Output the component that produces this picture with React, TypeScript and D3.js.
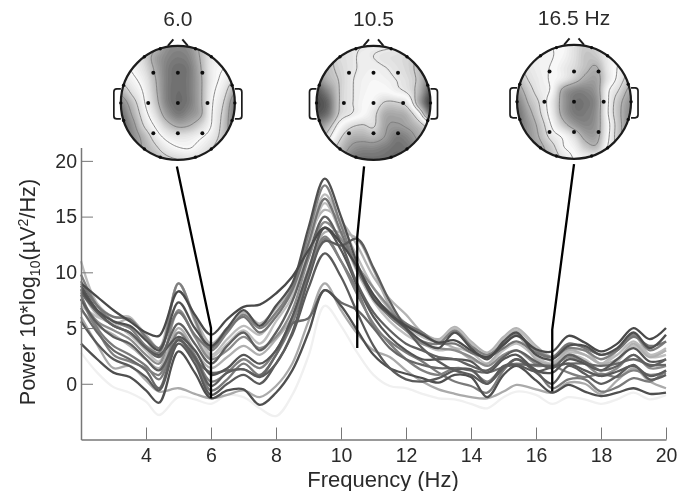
import React, { useEffect, useRef } from 'react';
import * as d3 from 'd3';

const freqs = [2, 2.5, 3, 3.5, 4, 4.4, 5, 5.5, 6, 6.5, 7, 7.5, 8, 8.5, 9, 9.5, 10, 10.5, 11, 11.5, 12, 12.5, 13, 13.5, 14, 14.5, 15, 15.4, 16, 16.5, 17, 17.5, 18, 18.5, 19, 19.5, 20];

// one spectrum per subject
const ghost = [2.8, 1.0, -0.3, -0.8, -1.6, -2.8, -1.2, -1.4, -1.8, -1.0, -1.2, -2.2, -2.9, -1.0, 2.5, 7.0, 5.2, 2.8, 0.8, -0.2, -0.4, -0.9, -1.3, -1.4, -1.8, -2.2, -1.2, -0.7, -1.0, -1.8, -1.2, -1.4, -1.8, -1.4, -0.8, -1.4, -1.0];
const lightT = [8.4, 6.2, 5.4, 5.8, 4.4, 3.2, 9.0, 6.0, 3.6, 5.0, 6.4, 5.4, 6.8, 8.8, 13.0, 15.6, 14.6, 12.4, 9.6, 7.6, 6.2, 4.6, 4.0, 5.1, 3.8, 2.8, 4.2, 5.0, 3.4, 2.4, 3.0, 3.0, 1.8, 3.0, 4.4, 2.6, 3.0];
const lightD = [11.0, 7.2, 6.0, 6.0, 4.0, 2.6, 9.0, 5.6, 2.6, 4.0, 5.2, 4.4, 6.2, 8.2, 12.8, 17.0, 14.4, 11.4, 8.6, 6.6, 5.2, 4.2, 3.8, 5.0, 3.6, 2.4, 4.0, 4.8, 3.2, 2.0, 2.8, 2.6, 1.8, 2.6, 3.8, 2.6, 3.2];
const lightE = [7.0, 6.0, 5.4, 4.4, 3.0, 2.0, 6.4, 4.4, 2.4, 3.6, 4.8, 3.6, 5.6, 7.8, 12.2, 16.2, 13.4, 10.0, 7.4, 5.6, 4.4, 3.6, 3.0, 3.2, 2.8, 1.8, 3.0, 3.6, 2.4, 1.8, 2.6, 2.2, 1.2, 2.0, 3.4, 2.4, 2.6];
const lightI = [6.6, 5.2, 4.4, 3.4, 2.2, 1.4, 5.0, 3.0, 1.4, 2.4, 3.4, 2.6, 4.0, 6.0, 10.4, 13.6, 13.6, 13.0, 10.2, 7.0, 5.4, 4.4, 3.8, 3.2, 2.2, 1.8, 3.4, 4.4, 2.2, 1.8, 3.0, 2.6, 1.8, 2.2, 3.6, 2.4, 3.0];
const lightQ = [6.0, 3.5, 1.4, 1.6, 0.3, -0.7, -0.4, -0.9, -1.3, -1.0, -0.6, -1.2, -0.2, 1.8, 5.6, 9.0, 6.6, 4.5, 3.0, 2.4, 1.2, 0.2, -0.5, -0.9, -1.2, -1.3, -0.7, -0.1, -0.5, -0.8, 0.1, 0.0, -0.9, 0.3, 1.4, 0.2, -0.4];
const midG = [7.6, 5.6, 4.8, 4.0, 2.6, 1.8, 6.6, 4.2, 2.2, 3.0, 4.2, 3.2, 4.2, 6.6, 11.2, 14.5, 13.0, 10.6, 8.6, 6.8, 4.8, 3.6, 3.2, 3.0, 2.4, 1.6, 2.6, 3.0, 1.8, 1.6, 2.4, 1.8, 0.8, 1.4, 2.6, 1.4, 1.6];
const midC = [9.8, 7.0, 5.6, 5.0, 3.4, 2.8, 9.0, 5.8, 3.0, 4.6, 6.2, 5.0, 6.4, 8.6, 13.4, 17.8, 14.2, 10.4, 7.6, 6.0, 4.8, 3.8, 3.6, 4.8, 3.4, 2.6, 3.6, 4.4, 3.0, 2.4, 3.2, 3.0, 2.2, 3.0, 4.4, 3.0, 3.8];
const midK = [8.0, 5.0, 3.4, 2.6, 1.6, 0.4, 4.0, 2.2, -0.6, 0.4, 1.8, 0.8, 2.6, 5.4, 9.6, 13.0, 11.0, 8.4, 5.2, 3.8, 2.8, 2.0, 1.0, 0.2, -0.2, -0.8, 1.2, 2.2, 1.2, -0.4, 0.4, 0.4, -0.7, -0.3, 0.5, 0.2, 1.2];
const midR = [7.6, 4.8, 2.6, 2.0, 1.4, 0.8, 4.6, 2.6, 0.2, 1.0, 2.2, 1.4, 3.0, 5.8, 9.8, 13.2, 11.0, 8.0, 5.4, 3.6, 2.2, 1.2, 0.8, 1.4, 1.2, 0.2, 1.5, 1.8, 1.6, 1.6, 1.0, 0.6, 0.9, 0.6, 1.2, 0.8, 1.0];
const midS = [9.2, 7.0, 6.0, 5.8, 4.2, 3.2, 6.4, 4.4, 3.2, 4.8, 6.0, 4.6, 6.0, 8.4, 12.6, 16.6, 13.6, 10.2, 7.8, 6.4, 5.4, 4.6, 3.6, 3.6, 2.8, 2.4, 3.2, 3.8, 2.8, 2.4, 3.6, 3.2, 2.6, 3.0, 4.2, 3.4, 3.8];
const darkO = [6.8, 4.6, 3.0, 2.2, 1.2, -0.4, 4.0, 2.2, 1.0, 1.2, 1.3, 0.7, 2.6, 5.4, 5.9, 8.4, 7.3, 6.6, 5.0, 3.2, 2.2, 1.7, 1.4, 1.4, 1.2, 1.0, 1.5, 1.7, 1.7, 1.6, 1.8, 1.8, 1.6, 1.8, 2.2, 1.7, 1.7];
const darkL = [3.6, 2.2, 1.0, 0.6, -0.6, -1.7, 2.9, 1.0, -1.3, -0.6, -0.5, -1.9, -0.8, 1.2, 4.6, 8.4, 7.0, 4.8, 2.6, 1.4, 0.9, 0.5, 0.1, 0.8, 0.6, -1.2, 0.8, 1.6, 0.3, -0.8, -0.1, -0.7, -1.1, -0.8, -0.4, -0.9, -0.8];
const darkN = [5.6, 3.6, 2.2, 1.6, 0.6, -0.6, 3.6, 1.8, -1.0, 0.0, 0.8, 0.0, 1.8, 4.4, 8.6, 11.7, 9.6, 6.4, 3.4, 1.4, 0.4, 0.2, 0.5, 1.2, 1.3, 0.0, 1.6, 1.7, 1.1, 1.5, 1.8, 1.2, 0.7, 1.1, 1.6, 0.7, 1.2];
const darkJ = [7.6, 5.4, 4.2, 3.6, 2.2, 1.2, 3.9, 2.4, -0.2, 1.0, 1.3, 0.6, 1.8, 4.6, 9.4, 12.8, 12.4, 13.0, 10.4, 7.4, 5.0, 3.2, 2.0, 1.2, 0.8, 0.0, 1.4, 2.2, 1.0, 0.0, 1.6, 0.9, 0.0, 0.7, 1.7, 0.4, 0.8];
const darkH = [8.8, 6.6, 5.2, 4.6, 3.2, 2.6, 4.2, 3.0, 0.8, 1.4, 2.6, 1.8, 3.0, 6.0, 10.2, 14.0, 12.0, 8.8, 6.0, 4.2, 3.0, 2.2, 2.2, 2.2, 2.0, 1.0, 2.2, 2.6, 1.2, 1.0, 2.2, 1.8, 1.2, 2.2, 3.2, 2.0, 2.2];
const darkF = [8.2, 6.4, 5.2, 4.6, 3.2, 2.4, 5.4, 3.6, 1.8, 3.4, 4.6, 3.0, 4.6, 7.4, 11.6, 15.0, 12.6, 9.0, 6.4, 4.8, 3.6, 3.0, 2.4, 2.2, 1.6, 1.2, 2.4, 3.0, 2.0, 1.4, 2.6, 2.0, 1.2, 1.6, 2.6, 1.6, 2.2];
const darkB = [8.5, 6.6, 5.6, 5.2, 3.9, 3.0, 7.3, 5.0, 3.4, 5.0, 6.6, 5.2, 7.0, 9.0, 14.0, 18.4, 15.0, 10.8, 7.6, 6.2, 5.0, 3.8, 3.2, 4.6, 3.2, 2.2, 3.8, 4.6, 2.6, 2.2, 3.4, 3.4, 2.6, 3.2, 4.6, 3.2, 4.4];
const darkA = [9.0, 7.8, 6.6, 5.6, 4.6, 4.3, 8.3, 6.2, 4.4, 5.8, 6.9, 7.1, 8.1, 9.6, 12.0, 14.0, 12.6, 10.5, 8.0, 6.3, 5.2, 4.4, 3.7, 3.9, 3.0, 2.4, 3.5, 4.3, 3.1, 2.9, 4.3, 3.7, 2.9, 3.6, 5.0, 4.0, 5.0];

const spectra = [ghost, lightT, lightD, lightE, lightI, lightQ, midG, midC, midK, midR, midS, darkO, darkL, darkN, darkJ, darkH, darkF, darkB, darkA];
const spectraGray = ['#f0f0f0', '#b4b4b4', '#bcbcbc', '#c0c0c0', '#b0b0b0', '#aaaaaa', '#8c8c8c', '#808080', '#7a7a7a', '#808080', '#747474', '#686868', '#505050', '#5a5a5a', '#5c5c5c', '#555555', '#606060', '#505050', '#4a4a4a'];

// scalp maps: signed level on a grid across the head, rows run front to back.
// both signs print dark, zero prints white
const map6 = [
  [0.1, 0.1, 0.2, 0.3, 0.5, 0.55, 0.5, 0.3, 0.1, 0, 0],
  [0, 0.05, 0.2, 0.42, 0.55, 0.6, 0.55, 0.33, 0.1, 0.05, 0],
  [-0.05, 0.02, 0.15, 0.38, 0.58, 0.65, 0.6, 0.36, 0.08, 0, -0.05],
  [-0.15, -0.05, 0.08, 0.33, 0.58, 0.65, 0.6, 0.38, 0.08, -0.05, -0.2],
  [-0.35, -0.15, 0.02, 0.3, 0.58, 0.66, 0.6, 0.38, 0.05, -0.12, -0.4],
  [-0.55, -0.3, -0.03, 0.25, 0.56, 0.66, 0.6, 0.38, 0.02, -0.2, -0.55],
  [-0.65, -0.4, -0.1, 0.15, 0.45, 0.6, 0.52, 0.38, 0, -0.25, -0.6],
  [-0.7, -0.5, -0.2, 0.02, 0.25, 0.38, 0.35, 0.2, -0.02, -0.28, -0.6],
  [-0.7, -0.55, -0.35, -0.12, 0.05, 0.12, 0.1, 0.02, -0.1, -0.3, -0.55],
  [-0.65, -0.55, -0.4, -0.25, -0.1, -0.02, 0, -0.08, -0.2, -0.35, -0.5],
  [-0.6, -0.55, -0.45, -0.35, -0.25, -0.2, -0.15, -0.2, -0.3, -0.4, -0.5],
];
const map10 = [
  [-0.15, -0.15, -0.15, -0.12, -0.1, -0.08, -0.08, -0.1, -0.15, -0.2, -0.2],
  [-0.3, -0.28, -0.18, -0.13, -0.08, -0.1, -0.14, -0.16, -0.2, -0.28, -0.4],
  [-0.36, -0.3, -0.21, -0.13, -0.08, -0.06, -0.09, -0.14, -0.2, -0.3, -0.45],
  [-0.55, -0.36, -0.24, -0.12, -0.06, -0.03, -0.05, -0.1, -0.17, -0.3, -0.6],
  [-0.75, -0.55, -0.25, -0.12, -0.05, 0, 0.02, -0.05, -0.13, -0.35, -0.75],
  [-0.8, -0.68, -0.25, -0.12, -0.03, 0.06, 0.22, 0.22, 0.1, -0.4, -0.85],
  [-0.75, -0.62, -0.22, -0.1, 0, 0.14, 0.38, 0.4, 0.33, 0, -0.6],
  [-0.55, -0.35, -0.02, 0.16, 0.22, 0.18, 0.42, 0.47, 0.42, 0.3, 0.1],
  [-0.4, -0.15, 0.15, 0.35, 0.38, 0.35, 0.46, 0.6, 0.55, 0.4, 0.3],
  [-0.2, 0.05, 0.28, 0.48, 0.55, 0.55, 0.6, 0.65, 0.62, 0.5, 0.4],
  [-0.1, 0.1, 0.35, 0.6, 0.65, 0.65, 0.65, 0.68, 0.65, 0.55, 0.45],
];
const map16 = [
  [-0.1, -0.08, -0.05, -0.03, 0, 0.15, 0.25, 0.2, 0.05, -0.05, -0.1],
  [-0.12, -0.08, -0.06, -0.04, 0.03, 0.15, 0.28, 0.25, 0.08, -0.03, -0.1],
  [-0.18, -0.12, -0.06, -0.02, 0.08, 0.18, 0.3, 0.36, 0.1, -0.06, -0.18],
  [-0.32, -0.17, -0.08, -0.01, 0.1, 0.25, 0.4, 0.42, 0.12, -0.1, -0.28],
  [-0.45, -0.25, -0.1, 0, 0.4, 0.55, 0.56, 0.45, 0, -0.2, -0.42],
  [-0.58, -0.33, -0.16, 0.08, 0.44, 0.62, 0.62, 0.5, -0.02, -0.3, -0.5],
  [-0.65, -0.42, -0.2, 0.06, 0.42, 0.6, 0.6, 0.48, -0.03, -0.32, -0.55],
  [-0.65, -0.48, -0.28, -0.02, 0.26, 0.46, 0.55, 0.46, 0.02, -0.3, -0.55],
  [-0.6, -0.5, -0.33, -0.12, 0, 0.18, 0.42, 0.42, 0, -0.3, -0.5],
  [-0.55, -0.5, -0.4, -0.25, -0.05, 0.05, 0.25, 0.3, -0.05, -0.25, -0.4],
  [-0.5, -0.45, -0.4, -0.3, -0.15, -0.02, 0.05, 0.05, -0.1, -0.2, -0.3],
];
const mapGrids = [map6, map10, map16];
const mapLabels = ['6.0', '10.5', '16.5 Hz'];
const mapLevels = [
  [-0.42, -0.2, 0, 0.35],
  [-0.25, -0.1, 0.2, 0.45],
  [-0.35, -0.18, -0.03, 0.35],
];

// where each map sits, in axis units, and the line that ties it to its frequency
const markerFreq = [6, 10.5, 16.5];
const markerBend = [5, 13.2, 4.85];
const markerLow = [-1.3, 3.2, -0.7];
const markerTopFreq = [4.95, 10.71, 17.17];
const markerTopPower = [19.5, 19.5, 19.7];
const mapCenterFreq = [4.98, 11.0, 17.17];
const mapCenterPower = [25.2, 25.2, 25.3];

// electrode positions as fractions of the head radius
const electrodeX = [-0.43, 0, 0.43, -0.52, 0, 0.52, -0.43, 0, 0.43];
const electrodeY = [-0.53, -0.53, -0.53, 0, 0, 0, 0.53, 0.53, 0.53];
const rimAngles = [0, 18, 54, 72, 108, 126, 162, 180, 198, 234, 252, 288, 306, 342];

const xTicks = [4, 6, 8, 10, 12, 14, 16, 18, 20];
const yTicks = [0, 5, 10, 15, 20];

const FONT = '"Liberation Sans", Arial, sans-serif';

function catmull(p0: number, p1: number, p2: number, p3: number, t: number) {
  return 0.5 * (2 * p1 + (p2 - p0) * t + (2 * p0 - 5 * p1 + 4 * p2 - p3) * t * t + (3 * p1 - p0 - 3 * p2 + p3) * t * t * t);
}

// grid -> finer flat field, so the bands and contour lines come out smooth
function upsample(grid: number[][], steps: number) {
  const n = grid.length;
  const size = (n - 1) * steps + 1;
  const at = (r: number, c: number) => grid[Math.max(0, Math.min(n - 1, r))][Math.max(0, Math.min(n - 1, c))];
  const values = new Array(size * size);
  for (let j = 0; j < size; j++) {
    const r = Math.floor(j / steps), tr = j / steps - r;
    for (let i = 0; i < size; i++) {
      const c = Math.floor(i / steps), tc = i / steps - c;
      const row = [-1, 0, 1, 2].map(k => catmull(at(r + k, c - 1), at(r + k, c), at(r + k, c + 1), at(r + k, c + 2), tc));
      values[j * size + i] = catmull(row[0], row[1], row[2], row[3], tr);
    }
  }
  return { values, size };
}

export default function App() {
  const ref = useRef<SVGSVGElement>(null);

  useEffect(() => {
    const width = 677, height = 491;
    const svg = d3.select(ref.current);
    svg.selectAll('*').remove();
    svg.attr('width', width).attr('height', height);

    svg.append('defs').append('filter').attr('id', 'soft')
      .attr('filterUnits', 'userSpaceOnUse')
      .attr('x', 0).attr('y', 0)
      .attr('width', width).attr('height', height)
      .append('feGaussianBlur').attr('stdDeviation', 0.55);

    const root = svg.append('g').attr('filter', 'url(#soft)').style('font-family', FONT);
    root.append('rect').attr('width', width).attr('height', height).attr('fill', '#fff');

    const x = d3.scaleLinear().domain([2, 20]).range([81, 666]);
    const y = d3.scaleLinear().domain([-5, 21.2]).range([439.5, 147.5]);

    // spectra
    const line = d3.line<number>()
      .x((_, i) => x(freqs[i]))
      .y(d => y(d))
      .curve(d3.curveCatmullRom.alpha(0.5));

    root.append('g').selectAll('path')
      .data(spectra)
      .enter()
      .append('path')
      .attr('d', d => line(d))
      .attr('fill', 'none')
      .attr('stroke', (_, i) => spectraGray[i])
      .attr('stroke-width', 2.3)
      .attr('stroke-linejoin', 'round');

    // axes
    const xAxis = d3.axisBottom(x).tickValues(xTicks).tickSize(-12).tickSizeOuter(0).tickPadding(9).tickFormat(d3.format('d') as any);
    const yAxis = d3.axisLeft(y).tickValues(yTicks).tickSize(-12).tickSizeOuter(0).tickPadding(4).tickFormat(d3.format('d') as any);

    for (const [axis, pos] of [[xAxis, `translate(0,${y(-5)})`], [yAxis, `translate(${x(2)},0)`]] as any) {
      const g = root.append('g').attr('transform', pos).call(axis);
      g.attr('font-family', FONT).attr('font-size', 19.5);
      g.selectAll('text').attr('fill', '#2a2a2a');
      g.selectAll('line').attr('stroke', '#777').attr('stroke-width', 1);
      g.select('.domain').attr('stroke', '#777').attr('stroke-width', 1.5);
    }

    root.append('text')
      .attr('x', 383).attr('y', 486.5)
      .attr('text-anchor', 'middle')
      .attr('font-size', 22).attr('fill', '#2a2a2a')
      .text('Frequency (Hz)');

    const yLabel = root.append('text')
      .attr('transform', 'translate(35,292) rotate(-90)')
      .attr('text-anchor', 'middle')
      .attr('font-size', 21.7).attr('fill', '#2a2a2a');
    yLabel.append('tspan').text('Power 10*log');
    yLabel.append('tspan').attr('font-size', 14).attr('dy', 5).text('10');
    yLabel.append('tspan').attr('dy', -5).text('(µV');
    yLabel.append('tspan').attr('font-size', 14).attr('dy', -7).text('2');
    yLabel.append('tspan').attr('dy', 7).text('/Hz)');

    // scalp maps
    const radius = 57;
    const gray = d3.scaleLinear<string>()
      .domain([0, 0.15, 0.35, 0.6, 0.8])
      .range(['#fafafa', '#e2e2e2', '#b4b4b4', '#7c7c7c', '#4c4c4c'])
      .clamp(true);
    const bands = d3.range(-0.84, 0.84, 0.03);

    mapGrids.forEach((grid, m) => {
      const head = root.append('g')
        .attr('transform', `translate(${x(mapCenterFreq[m])},${y(mapCenterPower[m])})`);

      const { values, size } = upsample(grid, 8);
      const toHead = d3.scaleLinear().domain([0, size - 1]).range([-radius, radius]);
      const path = d3.geoPath(d3.geoTransform({
        point(px, py) { this.stream.point(toHead(px - 0.5), toHead(py - 0.5)); },
      }));

      const clipId = `scalp-${m}`;
      head.append('clipPath').attr('id', clipId).append('circle').attr('r', radius);
      const inside = head.append('g').attr('clip-path', `url(#${clipId})`);
      inside.append('rect')
        .attr('x', -radius).attr('y', -radius)
        .attr('width', radius * 2).attr('height', radius * 2)
        .attr('fill', gray(0.84));

      inside.selectAll('path.band')
        .data(d3.contours().size([size, size]).thresholds(bands)(values))
        .enter().append('path')
        .attr('class', 'band')
        .attr('d', d => path(d as any))
        .attr('fill', d => gray(Math.abs(d.value + 0.015)));

      inside.selectAll('path.level')
        .data(d3.contours().size([size, size]).thresholds(mapLevels[m])(values))
        .enter().append('path')
        .attr('class', 'level')
        .attr('d', d => path(d as any))
        .attr('fill', 'none')
        .attr('stroke', '#7c7c7c')
        .attr('stroke-width', 0.9);

      head.append('circle').attr('r', radius).attr('fill', 'none').attr('stroke', '#1c1c1c').attr('stroke-width', 2.2);

      // ears and nose
      [-1, 1].forEach(side => {
        head.append('path')
          .attr('d', `M${side * radius},-14 H${side * (radius + 4)} Q${side * (radius + 7)},-14 ${side * (radius + 7)},-11 V13 Q${side * (radius + 7)},16 ${side * (radius + 4)},16 H${side * radius}`)
          .attr('fill', 'none').attr('stroke', '#1c1c1c').attr('stroke-width', 1.7);
        head.append('path')
          .attr('d', `M${side * 10},${-radius} L${side * 4.5},${-radius - 6.5}`)
          .attr('fill', 'none').attr('stroke', '#1c1c1c').attr('stroke-width', 2);
      });

      head.selectAll('circle.electrode')
        .data(electrodeX)
        .enter().append('circle')
        .attr('class', 'electrode')
        .attr('cx', d => d * radius)
        .attr('cy', (_, i) => electrodeY[i] * radius)
        .attr('r', 2).attr('fill', '#111');

      head.selectAll('circle.rim')
        .data(rimAngles)
        .enter().append('circle')
        .attr('class', 'rim')
        .attr('cx', d => Math.cos(d * Math.PI / 180) * radius)
        .attr('cy', d => -Math.sin(d * Math.PI / 180) * radius)
        .attr('r', 1.7).attr('fill', '#111');

      head.append('text')
        .attr('x', 0).attr('y', -radius - 20)
        .attr('text-anchor', 'middle')
        .attr('font-size', 21).attr('fill', '#2a2a2a')
        .text(mapLabels[m]);
    });

    // lines from the maps down to the spectra
    const markerLine = d3.line<number[]>().x(d => x(d[0])).y(d => y(d[1]));
    markerFreq.forEach((f, m) => {
      root.append('path')
        .attr('d', markerLine([[markerTopFreq[m], markerTopPower[m]], [f, markerBend[m]], [f, markerLow[m]]]))
        .attr('fill', 'none')
        .attr('stroke', '#000')
        .attr('stroke-width', 2.3)
        .attr('stroke-linejoin', 'round');
    });
  }, []);

  return <svg ref={ref} style={{ position: 'absolute', left: 0, top: 0 }} />;
}
